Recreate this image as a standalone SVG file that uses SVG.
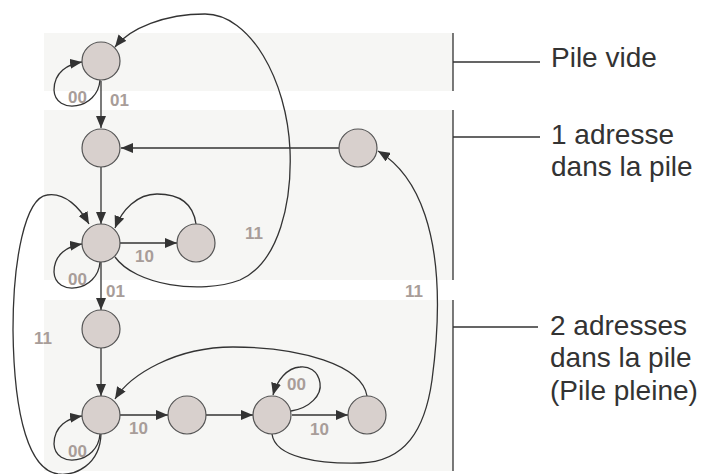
<svg xmlns="http://www.w3.org/2000/svg" width="704" height="474" viewBox="0 0 704 474">
<defs>
<marker id="ah" markerUnits="userSpaceOnUse" markerWidth="12" markerHeight="10" refX="12" refY="5" orient="auto">
<path d="M0,0 L12,5 L0,10 z" fill="#333"/>
</marker>
<style>
.band{fill:#f6f6f4}
.sep{stroke:#333;stroke-width:1.3;fill:none}
.node{fill:#d8d0cd;stroke:#555;stroke-width:1.2}
.e{fill:none;stroke:#333;stroke-width:1.3;marker-end:url(#ah)}
.lbl{font-family:"Liberation Sans",Arial,sans-serif;font-weight:bold;font-size:17px;fill:#a89d99}
.cap{font-family:"Liberation Sans",Arial,sans-serif;font-size:28px;fill:#333}
</style>
</defs>
<rect width="704" height="474" fill="#fff"/>
<g id="bands">
<rect class="band" x="44" y="33" width="409" height="58"/>
<rect class="band" x="44" y="110" width="409" height="170"/>
<rect class="band" x="44" y="300" width="409" height="171"/>
<path class="sep" d="M453,33 V91 M453,110 V280 M453,300 V471 M453,62 H540 M453,137 H540 M453,327 H538"/>
</g>
<g id="captions">
<text class="cap" x="551" y="67">Pile vide</text>
<text class="cap" x="551" y="144">1 adresse</text>
<text class="cap" x="551" y="176">dans la pile</text>
<text class="cap" x="550" y="335">2 adresses</text>
<text class="cap" x="550" y="367">dans la pile</text>
<text class="cap" x="550" y="400">(Pile pleine)</text>
</g>
<g id="connectors">
<path class="e" d="M100,80 C98,110 55,115 54,90 C54,72 68,64 82,62"/>
<path class="e" d="M101,81 V128"/>
<path class="e" d="M339,148 H121"/>
<path class="e" d="M101,167 V224"/>
<path class="e" d="M196,224 C193,202 177,194 157,194 C137,194 122,210 115,228"/>
<path class="e" d="M120,243 H177"/>
<path class="e" d="M100,262 C98,292 55,297 54,272 C54,254 68,246 82,244"/>
<path class="e" d="M101,262 V310"/>
<path class="e" d="M115,257 C135,285 200,295 240,280 C280,262 292,200 290,150 C287,80 250,14 205,14 C165,14 130,28 115,47"/>
<path class="e" d="M101,434 C100,465 75,476 58,474 C30,470 14,420 13,330 C13,260 25,198 47,195 C65,192 80,208 89,224"/>
<path class="e" d="M101,348 V396"/>
<path class="e" d="M100,434 C98,464 55,469 54,444 C54,426 68,418 82,416"/>
<path class="e" d="M120,415 H168"/>
<path class="e" d="M206,415 H253"/>
<path class="e" d="M291,411 C310,408 322,395 320,383 C318,370 308,366 300,367 C287,368 277,380 273,395"/>
<path class="e" d="M292,415 H348"/>
<path class="e" d="M367,396 C362,365 300,347 233,347 C175,347 130,375 115,399"/>
<path class="e" d="M272,434 C275,458 320,464 360,463 C405,462 425,430 432,380 C440,320 440,260 425,215 C415,185 398,163 378,151"/>
</g>
<g id="labels">
<text class="lbl" x="68" y="103">00</text>
<text class="lbl" x="110" y="106">01</text>
<text class="lbl" x="135" y="262">10</text>
<text class="lbl" x="245" y="239">11</text>
<text class="lbl" x="68" y="285">00</text>
<text class="lbl" x="106" y="297">01</text>
<text class="lbl" x="405" y="297">11</text>
<text class="lbl" x="34" y="344">11</text>
<text class="lbl" x="68" y="457">00</text>
<text class="lbl" x="129" y="434">10</text>
<text class="lbl" x="287" y="390">00</text>
<text class="lbl" x="310" y="435">10</text>
</g>
<g id="nodeA"><circle class="node" cx="101" cy="61" r="19"/></g>
<g id="nodeB"><circle class="node" cx="101" cy="148" r="19"/></g>
<g id="nodeC"><circle class="node" cx="101" cy="243" r="19"/></g>
<g id="nodeD"><circle class="node" cx="196" cy="243" r="19"/></g>
<g id="nodeE"><circle class="node" cx="358" cy="148" r="19"/></g>
<g id="nodeF"><circle class="node" cx="101" cy="329" r="19"/></g>
<g id="nodeG"><circle class="node" cx="101" cy="415" r="19"/></g>
<g id="nodeH"><circle class="node" cx="187" cy="415" r="19"/></g>
<g id="nodeI"><circle class="node" cx="272" cy="415" r="19"/></g>
<g id="nodeJ"><circle class="node" cx="367" cy="415" r="19"/></g>
</svg>
